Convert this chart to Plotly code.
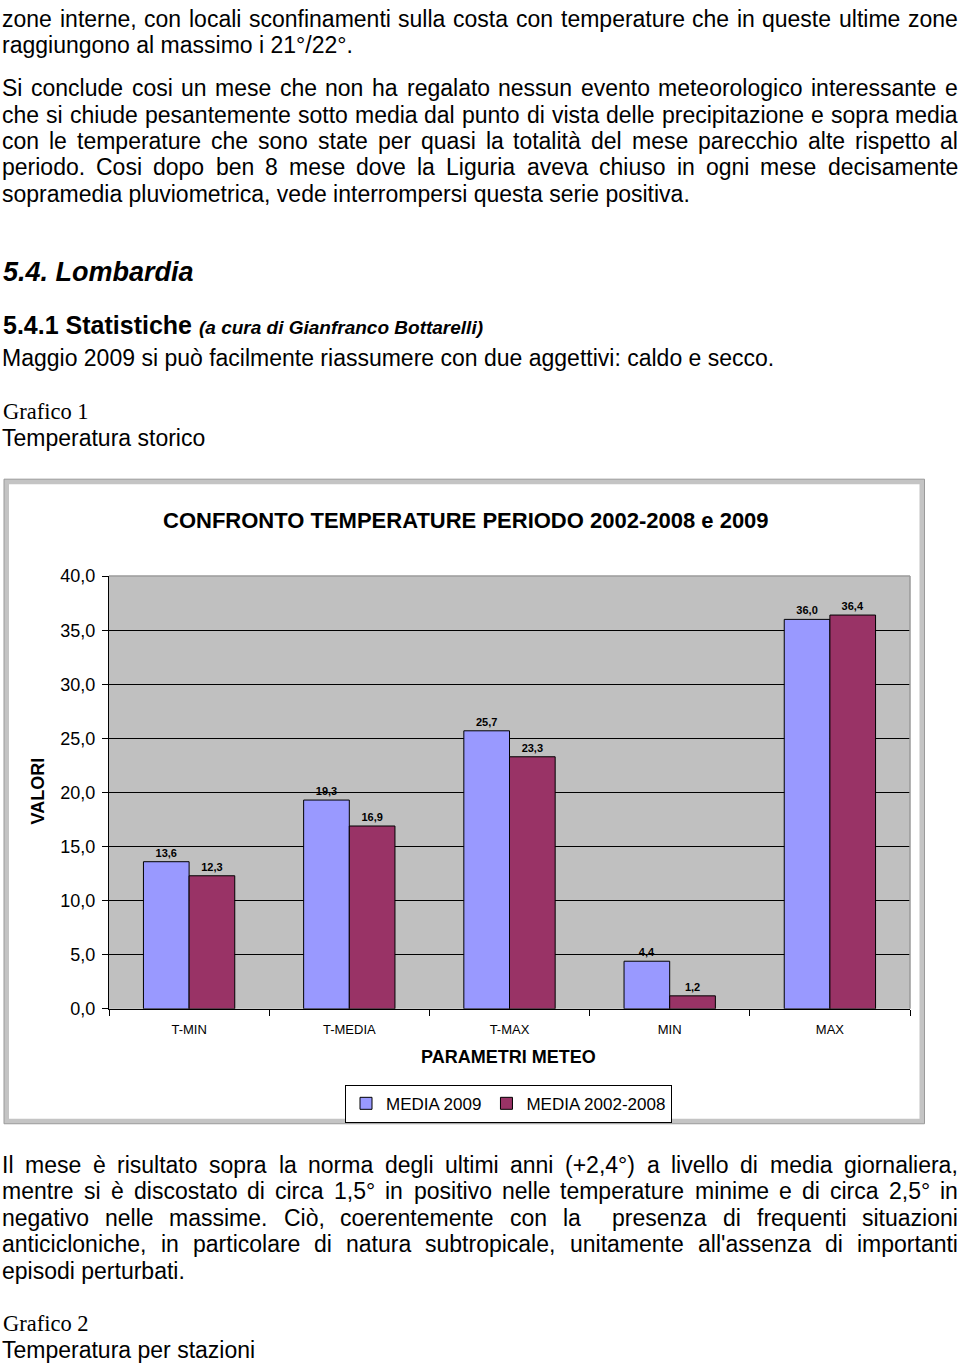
import plotly.graph_objects as go

# ---------------- data ----------------
categories = ["T-MIN", "T-MEDIA", "T-MAX", "MIN", "MAX"]
media_2009 = [13.6, 19.3, 25.7, 4.4, 36.0]
media_2002_2008 = [12.3, 16.9, 23.3, 1.2, 36.4]
y_ticks = [0, 5, 10, 15, 20, 25, 30, 35, 40]

W, H = 960, 1364
# measured mapping between figure pixels and the photographed page
OFF, SCALE = 9.5, 0.986


def px(x):
    return x / W


def fy(y):
    # figure pixel row for a target row y on the photographed page
    return (y - OFF) / SCALE


def py(y):
    return 1 - fy(y) / H


def pyf(f):
    # paper coordinate from a raw figure pixel row
    return 1 - f / H


# Arial / Liberation Sans metrics (1/1000 em)
AW = {' ': 278, ',': 278, '.': 278, ':': 278, ';': 278, '(': 333, ')': 333, '+': 584,
      '-': 333, '/': 278, "'": 191, '°': 400, 'è': 556, 'à': 556, 'ò': 556, 'ù': 556,
      'é': 556, 'ì': 222}
for ch, w in zip("abcdefghijklmnopqrstuvwxyz",
                 [556, 556, 500, 556, 556, 278, 556, 556, 222, 222, 500, 222, 833, 556, 556,
                  556, 556, 333, 500, 278, 556, 500, 722, 500, 500, 500]):
    AW[ch] = w
for ch, w in zip("ABCDEFGHIJKLMNOPQRSTUVWXYZ",
                 [667, 667, 722, 722, 667, 611, 778, 722, 278, 500, 667, 556, 833, 722, 778,
                  667, 778, 722, 667, 611, 722, 667, 944, 667, 667, 611]):
    AW[ch] = w
for d in "0123456789":
    AW[d] = 556


def tw(s, size):
    return sum(AW.get(c, 556) for c in s) * size / 1000.0


BODY = "Liberation Sans"
SERIF = "Liberation Serif"
annotations = []


def txt(x, yp, text, size, family=BODY, weight="normal", style="normal",
        xanchor="left", angle=0):
    annotations.append(dict(
        x=px(x), y=yp, xref="paper", yref="paper", text=text, showarrow=False,
        xanchor=xanchor, yanchor="middle", textangle=angle, borderpad=0, borderwidth=0,
        font=dict(family=family, size=size, color="black", weight=weight, style=style)))


def justify(line, yp, size=23, x0=2, x1=958):
    toks = line.split(' ')
    total = sum(tw(t, size) for t in toks)
    gap = (x1 - x0 - total) / (len(toks) - 1)
    x = x0
    for t in toks:
        if t:
            txt(x, yp, t, size)
        x += tw(t, size) + gap


# ---------------- page text ----------------
justify("zone interne, con locali sconfinamenti sulla costa con temperature che in queste ultime zone", pyf(9.5))
txt(2, pyf(35.5), "raggiungono al massimo i 21°/22°.", 23)
justify("Si conclude cosi un mese che non ha regalato nessun evento meteorologico interessante e", py(88))
justify("che si chiude pesantemente sotto media dal punto di vista delle precipitazione e sopra media", py(115))
justify("con le temperature che sono state per quasi la totalità del mese parecchio alte rispetto al", py(141))
justify("periodo. Cosi dopo ben 8 mese dove la Liguria aveva chiuso in ogni mese decisamente", py(167))
txt(2, py(194), "sopramedia pluviometrica, vede interrompersi questa serie positiva.", 23)

txt(3, py(272), "5.4. Lombardia", 27, weight="bold", style="italic")
txt(3, py(325), "5.4.1 Statistiche", 25, weight="bold")
txt(199, py(327), "(a cura di Gianfranco Bottarelli)", 19, weight="bold", style="italic")
txt(2, py(358), "Maggio 2009 si può facilmente riassumere con due aggettivi: caldo e secco.", 23)
txt(3, py(411), "Grafico 1", 22.5, family=SERIF)
txt(2, py(438), "Temperatura storico", 23)

justify("Il mese è risultato sopra la norma degli ultimi anni (+2,4°) a livello di media giornaliera,", py(1165))
justify("mentre si è discostato di circa 1,5° in positivo nelle temperature minime e di circa 2,5° in", py(1191))
justify("negativo nelle massime. Ciò, coerentemente con la  presenza di frequenti situazioni", py(1218))
justify("anticicloniche, in particolare di natura subtropicale, unitamente all'assenza di importanti", py(1244))
txt(2, py(1271), "episodi perturbati.", 23)
txt(3, py(1324), "Grafico 2", 22.5, family=SERIF)
txt(2, py(1350), "Temperatura per stazioni", 23)

# ---------------- chart text ----------------
txt(465.5, py(520), "CONFRONTO TEMPERATURE PERIODO 2002-2008 e 2009", 22, weight="bold", xanchor="center")
txt(37.5, py(791), "VALORI", 18, weight="bold", xanchor="center", angle=-90)
txt(509, py(1057), "PARAMETRI METEO", 18, weight="bold", xanchor="center")

# ---------------- figure ----------------
fig = go.Figure()
fig.add_trace(go.Bar(
    x=categories, y=media_2009, name="MEDIA 2009",
    marker=dict(color="#9999FF", line=dict(color="black", width=1)),
    texttemplate="%{y:.1f}", textposition="outside", cliponaxis=False,
    textfont=dict(family=BODY, size=11, color="black", weight="bold")))
fig.add_trace(go.Bar(
    x=categories, y=media_2002_2008, name="MEDIA 2002-2008",
    marker=dict(color="#993366", line=dict(color="black", width=1)),
    texttemplate="%{y:.1f}", textposition="outside", cliponaxis=False,
    textfont=dict(family=BODY, size=11, color="black", weight="bold")))

shapes = [
    # chart frame
    dict(type="rect", xref="paper", yref="paper", x0=px(6.5), x1=px(922), y0=py(1121.5), y1=py(481.5),
         line=dict(color="#C4C4C4", width=5), layer="below"),
    dict(type="rect", xref="paper", yref="paper", x0=px(4), x1=px(924.5), y0=py(1124), y1=py(479),
         line=dict(color="#9A9A9A", width=1), layer="below"),
    # plot area top/right gray border
    dict(type="line", xref="paper", yref="paper", x0=px(109), x1=px(910), y0=py(576), y1=py(576),
         line=dict(color="#9A9A9A", width=1.5), layer="above"),
    dict(type="line", xref="paper", yref="paper", x0=px(910), x1=px(910), y0=py(576), y1=py(1009),
         line=dict(color="#9A9A9A", width=1.5), layer="above"),
]

fig.update_layout(
    width=W, height=H, autosize=False,
    margin=dict(l=0, r=0, t=0, b=0),
    paper_bgcolor="white", plot_bgcolor="#C0C0C0",
    separators=",.",
    barmode="group", bargap=0.43, bargroupgap=0,
    font=dict(family=BODY, color="black"),
    xaxis=dict(domain=[px(109), px(910)], showline=True, linecolor="black", linewidth=1,
               ticks="outside", tickson="boundaries", ticklen=6, tickcolor="black",
               tickfont=dict(size=13, family=BODY), ticklabelstandoff=9, showgrid=False),
    yaxis=dict(domain=[py(1009), py(576)], range=[0, 40], tickvals=y_ticks, tickformat=".1f",
               showline=True, linecolor="black", linewidth=1, ticks="outside", ticklen=6,
               tickcolor="black", tickfont=dict(size=18, family=BODY), showgrid=True,
               gridcolor="black", gridwidth=1, zeroline=False, ticklabelstandoff=3),
    legend=dict(orientation="h", x=px(508.5), xanchor="center", y=py(1085), yanchor="top",
                bordercolor="black", borderwidth=1, bgcolor="white", itemwidth=30,
                font=dict(size=17, family=BODY), traceorder="normal",
                itemclick=False, tracegroupgap=0),
    showlegend=True,
    annotations=annotations,
    shapes=shapes,
)

fig.write_html("out.html")
